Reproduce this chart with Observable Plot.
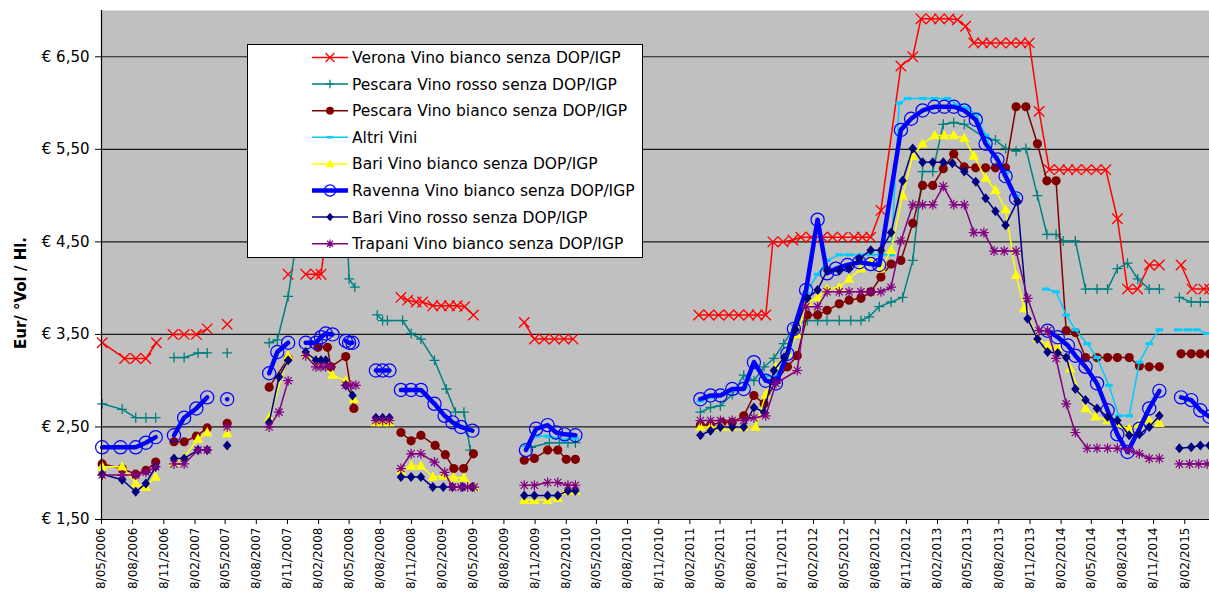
<!DOCTYPE html>
<html><head><meta charset="utf-8">
<script src="https://cdn.jsdelivr.net/npm/d3@7"></script>
<script src="https://cdn.jsdelivr.net/npm/@observablehq/plot@0.6"></script>
<style>
body{margin:0;background:#fff;}
#wrap{position:relative;width:1209px;height:592px;overflow:hidden;font-family:"DejaVu Sans",sans-serif;}
#ylabel{position:absolute;left:21px;top:293px;transform:translate(-50%,-50%) rotate(-90deg);font-weight:bold;font-size:15px;white-space:nowrap;}
#legend{position:absolute;left:247px;top:44px;width:396px;height:214px;background:#fff;border:1px solid #000;box-sizing:border-box;}
#legend svg{position:absolute;left:-1px;top:-1px;}
</style></head>
<body><div id="wrap"><div id="chart"></div><div id="ylabel">Eur/ °Vol / Hl.</div><div id="legend"></div></div>
<script>
const seriesNames = ["Verona Vino bianco senza DOP/IGP","Pescara Vino rosso senza DOP/IGP","Pescara Vino bianco senza DOP/IGP","Altri Vini","Bari Vino bianco senza DOP/IGP","Ravenna Vino bianco senza DOP/IGP","Bari Vino rosso senza DOP/IGP","Trapani Vino bianco senza DOP/IGP"];
const xTickLabels = ["8/05/2006","8/08/2006","8/11/2006","8/02/2007","8/05/2007","8/08/2007","8/11/2007","8/02/2008","8/05/2008","8/08/2008","8/11/2008","8/02/2009","8/05/2009","8/08/2009","8/11/2009","8/02/2010","8/05/2010","8/08/2010","8/11/2010","8/02/2011","8/05/2011","8/08/2011","8/11/2011","8/02/2012","8/05/2012","8/08/2012","8/11/2012","8/02/2013","8/05/2013","8/08/2013","8/11/2013","8/02/2014","8/05/2014","8/08/2014","8/11/2014","8/02/2015"];
const yTicks = [1.5,2.5,3.5,4.5,5.5,6.5];
const yTickLabels = ["€ 1,50","€ 2,50","€ 3,50","€ 4,50","€ 5,50","€ 6,50"];
const xStart = "2006-05-08", xEnd = "2015-04-22";
const yRange = [1.5, 7.0];

// null = break in the line
const verona = [
["2006-05-10",3.41],["2006-07-15",3.24],["2006-08-17",3.24],["2006-09-16",3.24],["2006-10-17",3.41],null,
["2006-12-05",3.50],["2007-01-07",3.50],["2007-02-12",3.50],["2007-03-16",3.56],null,
["2007-05-14",3.61],null,
["2007-11-10",4.15],null,
["2008-01-01",4.15],["2008-01-31",4.15],["2008-02-15",4.15],["2008-03-15",4.95],["2008-04-14",5.00],["2008-05-13",4.90],null,
["2008-10-08",3.90],["2008-10-28",3.87],["2008-11-22",3.85],["2008-12-11",3.85],["2009-01-10",3.81],["2009-02-04",3.81],["2009-02-28",3.81],["2009-03-23",3.81],["2009-04-14",3.80],["2009-05-10",3.71],null,
["2009-10-07",3.63],["2009-11-06",3.45],["2009-12-05",3.45],["2010-01-04",3.45],["2010-02-01",3.45],["2010-02-28",3.45],null,
["2011-03-06",3.71],["2011-04-05",3.71],["2011-05-04",3.71],["2011-06-03",3.71],["2011-07-02",3.71],["2011-08-01",3.71],["2011-08-26",3.71],["2011-09-20",3.71],
["2011-10-11",4.50],["2011-11-10",4.50],["2011-12-09",4.52],["2012-01-02",4.55],["2012-02-01",4.55],["2012-03-05",4.55],["2012-04-04",4.55],["2012-05-03",4.55],["2012-06-07",4.55],["2012-07-01",4.55],["2012-07-26",4.55],["2012-08-25",4.84],
["2012-10-23",6.40],["2012-11-27",6.50],["2012-12-21",6.91],["2013-01-20",6.91],["2013-02-14",6.91],["2013-03-14",6.91],["2013-04-08",6.90],["2013-05-02",6.83],["2013-05-26",6.65],["2013-06-21",6.65],["2013-07-15",6.65],["2013-08-14",6.65],["2013-09-13",6.65],["2013-10-12",6.65],["2013-11-06",6.65],["2013-12-05",5.91],
["2014-01-04",5.28],["2014-02-03",5.28],["2014-02-28",5.28],["2014-03-25",5.28],["2014-04-24",5.28],["2014-05-23",5.28],["2014-06-20",5.28],["2014-07-24",4.75],["2014-08-23",3.99],["2014-09-22",3.99],["2014-10-26",4.25],["2014-11-25",4.25],null,
["2015-01-28",4.25],["2015-03-01",3.99],["2015-04-05",3.99],["2015-04-22",3.99]
];
const pescaraRosso = [
["2006-05-10",2.75],["2006-07-08",2.69],["2006-08-17",2.60],["2006-09-16",2.60],["2006-10-15",2.60],null,
["2006-12-08",3.25],["2007-01-07",3.25],["2007-02-17",3.30],["2007-03-16",3.30],null,
["2007-05-14",3.30],null,
["2007-09-15",3.41],["2007-10-09",3.44],["2007-11-10",3.91],["2007-12-08",4.60],["2008-01-07",4.75],["2008-02-07",4.80],["2008-03-06",4.75],["2008-04-05",4.70],["2008-05-01",4.70],["2008-05-08",4.10],["2008-05-25",4.01],null,
["2008-07-30",3.71],["2008-08-15",3.65],["2008-08-29",3.65],["2008-10-13",3.65],["2008-11-07",3.51],["2008-12-06",3.45],["2009-01-15",3.22],["2009-02-19",2.91],["2009-03-18",2.66],["2009-04-12",2.66],["2009-05-01",2.25],null,
["2009-10-27",2.28],["2009-12-20",2.33],["2010-01-19",2.33],["2010-02-13",2.33],["2010-03-07",2.33],null,
["2011-03-11",2.66],["2011-04-10",2.71],["2011-05-09",2.73],["2011-06-13",2.85],["2011-07-17",3.06],["2011-08-16",3.00],["2011-09-15",3.15],["2011-10-14",3.24],["2011-11-12",3.40],["2011-12-17",3.60],["2012-01-21",3.65],["2012-02-20",3.65],["2012-03-19",3.65],["2012-04-24",3.65],["2012-05-28",3.65],["2012-06-27",3.65],["2012-07-21",3.69],["2012-08-20",3.80],["2012-09-24",3.85],["2012-10-28",3.90],["2012-11-27",4.30],["2012-12-26",5.26],["2013-01-25",5.26],["2013-02-25",5.77],["2013-03-28",5.79],["2013-04-28",5.77],["2013-06-30",5.62],["2013-07-29",5.60],["2013-08-28",5.51],["2013-09-28",5.48],["2013-10-27",5.51],["2013-11-30",5.00],["2013-12-28",4.58],["2014-01-24",4.58],["2014-02-14",4.51],["2014-03-22",4.51],["2014-04-21",3.99],["2014-05-25",3.99],["2014-06-25",3.99],["2014-07-24",4.21],["2014-08-23",4.27],["2014-09-22",4.10],["2014-10-26",3.99],["2014-11-25",3.99],null,
["2015-01-23",3.90],["2015-02-27",3.85],["2015-03-26",3.85],["2015-04-22",3.85]
];
const pescaraBianco = [
["2006-05-10",2.10],["2006-07-08",2.05],["2006-08-17",1.99],["2006-09-16",2.03],["2006-10-15",2.12],null,
["2006-12-08",2.34],["2007-01-07",2.34],["2007-02-12",2.40],["2007-03-16",2.49],null,
["2007-05-14",2.54],null,
["2007-09-15",2.93],["2007-11-10",3.24],null,
["2008-02-06",3.36],["2008-03-05",3.36],["2008-03-15",3.15],["2008-04-28",3.26],["2008-05-22",2.70],null,
["2008-07-30",2.57],["2008-08-29",2.57],null,
["2008-10-08",2.44],["2008-11-07",2.35],["2008-12-06",2.41],["2009-01-17",2.30],["2009-02-16",2.20],["2009-03-13",2.05],["2009-04-11",2.05],["2009-05-10",2.21],null,
["2009-10-07",2.14],["2009-11-06",2.16],["2009-12-15",2.25],["2010-01-14",2.25],["2010-02-08",2.15],["2010-03-07",2.15],null,
["2011-03-11",2.52],["2011-04-10",2.52],["2011-05-14",2.55],["2011-06-13",2.55],["2011-07-17",2.62],["2011-08-16",2.84],["2011-09-15",2.75],["2011-10-20",3.00],["2011-11-23",3.15],["2011-12-22",3.27],["2012-01-21",3.71],["2012-02-20",3.71],["2012-03-19",3.76],["2012-04-24",3.83],["2012-05-23",3.87],["2012-06-27",3.89],["2012-07-26",3.96],["2012-08-25",4.12],["2012-09-24",4.26],["2012-10-23",4.30],["2012-11-27",4.70],["2012-12-26",5.11],["2013-01-25",5.11],["2013-02-25",5.29],["2013-03-28",5.45],["2013-04-28",5.31],["2013-06-01",5.30],["2013-06-30",5.30],["2013-07-29",5.30],["2013-08-28",5.30],["2013-09-28",5.96],["2013-10-27",5.96],["2013-11-30",5.56],["2013-12-28",5.16],["2014-01-24",5.16],["2014-02-23",3.54],["2014-03-22",3.52],["2014-04-21",3.25],["2014-05-25",3.25],["2014-06-25",3.25],["2014-07-24",3.25],["2014-08-28",3.25],["2014-09-27",3.16],["2014-10-26",3.15],["2014-11-25",3.15],null,
["2015-01-28",3.29],["2015-02-27",3.29],["2015-03-26",3.29],["2015-04-22",3.29]
];
const altriVini = [
["2009-10-12",2.30],["2009-11-11",2.40],["2009-12-15",2.40],["2010-01-09",2.38],["2010-02-03",2.36],["2010-03-07",2.38],null,
["2011-03-11",2.78],["2011-04-10",2.82],["2011-05-09",2.84],["2011-06-13",2.90],["2011-07-17",2.92],["2011-08-16",3.15],["2011-09-20",3.05],["2011-10-20",3.05],["2011-11-23",3.30],["2011-12-17",3.55],["2012-01-17",3.95],["2012-02-20",4.15],["2012-03-19",4.30],["2012-04-24",4.36],["2012-05-23",4.36],["2012-06-27",4.36],["2012-07-26",4.36],["2012-08-25",4.36],["2012-09-24",4.36],["2012-10-18",6.00],["2012-11-12",6.05],["2012-12-26",6.05],["2013-01-30",6.05],["2013-03-09",6.05],["2013-04-08",5.98],["2013-05-02",5.95],["2013-06-01",5.88],["2013-06-30",5.65],["2013-07-29",5.42],["2013-08-28",5.25],["2013-09-28",5.00],null,
["2013-12-25",3.99],["2014-01-24",3.96],["2014-02-23",3.71],["2014-03-22",3.55],["2014-04-26",3.40],["2014-05-25",3.25],["2014-06-29",2.95],["2014-07-28",2.62],["2014-08-28",2.62],["2014-09-27",3.20],["2014-10-26",3.40],["2014-11-25",3.55],null,
["2015-01-18",3.55],["2015-02-17",3.55],["2015-03-16",3.55],["2015-04-15",3.51]
];
const bariBianco = [
["2006-05-10",2.07],["2006-07-08",2.07],["2006-08-17",1.89],["2006-09-16",1.85],["2006-10-15",1.96],null,
["2006-12-08",2.12],["2007-01-07",2.17],["2007-02-17",2.37],["2007-03-16",2.44],null,
["2007-05-14",2.43],null,
["2007-09-15",2.60],["2007-11-10",3.27],null,
["2008-01-01",3.28],["2008-02-06",3.20],["2008-03-20",3.06],["2008-04-28",3.00],["2008-05-22",2.80],null,
["2008-07-26",2.55],["2008-08-15",2.55],["2008-09-04",2.55],null,
["2008-10-08",2.03],["2008-11-07",2.08],["2008-12-06",2.08],["2009-01-10",1.96],["2009-02-10",1.97],["2009-03-13",1.95],["2009-04-12",1.95],["2009-05-12",1.85],null,
["2009-10-07",1.71],["2009-11-06",1.71],["2009-12-15",1.71],["2010-01-14",1.73],["2010-02-08",1.81],["2010-03-07",1.81],null,
["2011-03-11",2.50],["2011-04-10",2.50],["2011-05-14",2.50],["2011-06-13",2.50],["2011-07-17",2.50],["2011-08-21",2.50],["2011-09-20",2.85],["2011-10-20",3.15],["2011-11-23",3.30],["2011-12-22",3.50],["2012-01-21",3.85],["2012-02-20",3.90],["2012-03-19",3.99],["2012-04-24",4.01],["2012-05-23",4.10],["2012-06-27",4.21],["2012-07-26",4.30],["2012-08-25",4.21],["2012-09-24",4.41],["2012-10-28",5.00],["2012-11-27",5.43],["2012-12-26",5.56],["2013-01-30",5.65],["2013-02-28",5.65],["2013-03-28",5.65],["2013-04-28",5.62],["2013-05-26",5.43],["2013-06-30",5.19],["2013-07-29",5.06],["2013-08-28",4.85],["2013-09-28",4.14],["2013-10-22",3.78],["2013-11-30",3.46],["2013-12-30",3.38],["2014-01-29",3.36],["2014-03-07",3.13],["2014-04-21",2.70],["2014-05-20",2.61],["2014-06-25",2.57],["2014-07-28",2.52],["2014-08-28",2.48],["2014-09-27",2.53],["2014-10-26",2.57],["2014-11-25",2.54]
];
const ravenna = [
["2006-05-10",2.28],["2006-07-03",2.28],["2006-08-17",2.28],["2006-09-16",2.33],["2006-10-15",2.39],null,
["2006-12-08",2.41],["2007-01-07",2.60],["2007-02-12",2.70],["2007-03-16",2.82],null,
["2007-05-14",2.80],null,
["2007-09-15",3.08],["2007-10-09",3.31],["2007-11-10",3.41],null,
["2008-01-01",3.41],["2008-01-31",3.41],["2008-02-15",3.47],["2008-02-29",3.51],["2008-03-20",3.50],null,
["2008-04-28",3.43],["2008-05-08",3.41],["2008-05-18",3.41],null,
["2008-07-26",3.11],["2008-08-15",3.11],["2008-09-04",3.11],null,
["2008-10-08",2.90],["2008-11-07",2.90],["2008-12-06",2.90],["2009-01-15",2.75],["2009-02-14",2.62],["2009-03-09",2.55],["2009-04-03",2.50],["2009-05-07",2.46],null,
["2009-10-12",2.25],["2009-11-11",2.48],["2009-12-15",2.52],["2010-01-09",2.44],["2010-02-03",2.42],["2010-03-07",2.41],null,
["2011-03-11",2.80],["2011-04-10",2.84],["2011-05-09",2.84],["2011-06-13",2.91],["2011-07-17",2.91],["2011-08-16",3.20],["2011-09-20",3.00],["2011-10-20",2.97],["2011-11-23",3.29],["2011-12-12",3.56],["2012-01-17",3.98],["2012-02-20",4.74],["2012-03-19",4.16],["2012-04-14",4.21],["2012-05-18",4.25],["2012-06-22",4.28],["2012-07-26",4.26],["2012-08-20",4.25],["2012-10-23",5.71],["2012-11-22",5.83],["2012-12-26",5.92],["2013-01-30",5.96],["2013-02-28",5.96],["2013-03-28",5.96],["2013-04-28",5.92],["2013-06-01",5.82],["2013-06-30",5.56],["2013-08-04",5.39],["2013-08-28",5.21],["2013-09-28",4.97],null,
["2013-12-30",3.54],["2014-01-29",3.47],["2014-02-28",3.38],["2014-03-22",3.27],["2014-04-21",3.15],["2014-05-25",2.97],["2014-06-25",2.68],["2014-07-24",2.42],["2014-08-23",2.23],["2014-09-27",2.48],["2014-10-26",2.70],["2014-11-25",2.89],null,
["2015-01-28",2.82],["2015-02-27",2.79],["2015-03-26",2.68],["2015-04-22",2.61]
];
const bariRosso = [
["2006-05-10",1.99],["2006-07-08",1.93],["2006-08-17",1.80],["2006-09-16",1.89],["2006-10-15",2.07],null,
["2006-12-08",2.16],["2007-01-07",2.16],["2007-02-17",2.25],["2007-03-16",2.25],null,
["2007-05-14",2.30],null,
["2007-09-15",2.55],["2007-10-14",3.04],["2007-11-10",3.22],null,
["2008-01-01",3.31],["2008-01-31",3.22],["2008-02-15",3.22],["2008-02-29",3.22],null,
["2008-04-28",2.95],["2008-05-18",2.84],null,
["2008-07-26",2.60],["2008-08-15",2.60],["2008-09-04",2.60],null,
["2008-10-08",1.96],["2008-11-07",1.96],["2008-12-06",1.96],["2009-01-10",1.85],["2009-02-10",1.85],["2009-03-09",1.85],["2009-04-08",1.85],["2009-05-07",1.85],null,
["2009-10-07",1.76],["2009-11-06",1.76],["2009-12-15",1.76],["2010-01-14",1.76],["2010-02-13",1.81],["2010-03-07",1.81],null,
["2011-03-11",2.41],["2011-04-10",2.46],["2011-05-09",2.50],["2011-06-13",2.50],["2011-07-17",2.50],["2011-08-16",2.71],["2011-09-15",2.66],["2011-10-14",3.11],["2011-11-13",3.25],["2011-12-17",3.55],["2012-01-21",3.89],["2012-02-20",3.98],["2012-03-19",4.19],["2012-04-24",4.19],["2012-05-23",4.21],["2012-06-22",4.32],["2012-07-26",4.41],["2012-08-25",4.41],["2012-09-24",4.60],["2012-10-28",5.16],["2012-11-27",5.51],["2012-12-26",5.36],["2013-01-25",5.36],["2013-02-25",5.36],["2013-03-24",5.35],["2013-04-28",5.26],["2013-06-01",5.15],["2013-06-30",4.97],["2013-07-29",4.83],["2013-08-28",4.68],["2013-10-02",4.94],["2013-11-01",3.67],["2013-11-30",3.45],["2013-12-30",3.31],["2014-01-29",3.30],["2014-02-23",3.25],["2014-03-22",2.91],["2014-04-21",2.79],["2014-05-25",2.70],["2014-06-25",2.61],["2014-07-24",2.57],["2014-08-28",2.41],["2014-09-27",2.42],["2014-10-26",2.50],["2014-11-25",2.62],null,
["2015-01-23",2.27],["2015-02-27",2.28],["2015-03-26",2.30],["2015-04-22",2.30]
];
const trapani = [
["2006-05-10",1.98],["2006-07-08",1.98],["2006-08-17",1.98],["2006-09-16",2.01],["2006-10-15",2.07],null,
["2006-12-08",2.10],["2007-01-07",2.10],["2007-02-17",2.25],["2007-03-16",2.25],null,
["2007-05-14",2.50],null,
["2007-09-15",2.50],["2007-10-14",2.66],["2007-11-10",3.00],null,
["2008-01-01",3.27],["2008-01-31",3.15],["2008-02-15",3.15],["2008-02-29",3.15],["2008-03-15",3.15],null,
["2008-04-28",2.95],["2008-05-13",2.95],["2008-05-28",2.95],null,
["2008-07-26",2.57],["2008-08-15",2.57],["2008-09-04",2.57],null,
["2008-10-08",2.05],["2008-11-07",2.21],["2008-12-06",2.21],["2009-01-15",2.12],["2009-02-14",2.01],["2009-03-09",1.85],["2009-04-03",1.85],["2009-04-23",1.85],["2009-05-12",1.85],null,
["2009-10-07",1.87],["2009-11-06",1.87],["2009-12-15",1.90],["2010-01-14",1.90],["2010-02-13",1.87],["2010-03-07",1.87],null,
["2011-03-11",2.57],["2011-04-10",2.57],["2011-05-09",2.57],["2011-06-13",2.57],["2011-07-17",2.57],["2011-08-16",2.60],["2011-09-20",2.62],["2011-10-20",2.97],["2011-12-22",3.11],["2012-01-17",3.80],["2012-02-20",3.80],["2012-03-19",3.96],["2012-04-24",3.96],["2012-05-23",3.96],["2012-06-27",3.96],["2012-07-26",3.96],["2012-08-25",3.96],["2012-09-24",4.01],["2012-10-23",4.51],["2012-11-27",4.90],["2012-12-26",4.90],["2013-01-25",4.90],["2013-02-25",5.10],["2013-03-28",4.90],["2013-04-28",4.90],["2013-05-26",4.60],["2013-06-25",4.60],["2013-07-25",4.40],["2013-08-24",4.40],["2013-09-28",4.40],["2013-11-01",3.89],["2013-12-05",3.54],["2013-12-30",3.54],["2014-01-24",3.24],["2014-02-23",2.75],["2014-03-22",2.44],["2014-04-26",2.27],["2014-05-25",2.27],["2014-06-25",2.27],["2014-07-24",2.27],["2014-08-28",2.25],["2014-09-27",2.21],["2014-10-26",2.16],["2014-11-25",2.16],null,
["2015-01-23",2.10],["2015-02-22",2.10],["2015-03-21",2.10],["2015-04-15",2.10]
];

const allSeries = [verona, pescaraRosso, pescaraBianco, altriVini, bariBianco, ravenna, bariRosso, trapani];

// styles (kept apart from the data)
const styles = [
  {color:"#FF0000", width:1.5, shape:"times", r:5.2, filled:false, sw:1.3},
  {color:"#008080", width:1.5, shape:"plus", r:5, filled:false, sw:1.3},
  {color:"#800000", width:1.5, shape:"circle", r:4.6, filled:true},
  {color:"#00CCFF", width:1.5, shape:"dash", r:3.8, filled:true},
  {color:"#FFFF00", width:1.5, shape:"triangle", r:5.5, filled:true},
  {color:"#0000FF", width:4.5, shape:"circle", r:6.6, filled:false, sw:1.2},
  {color:"#000080", width:1.5, shape:"diamond", r:5, filled:true},
  {color:"#800080", width:1.5, shape:"asterisk", r:5, filled:false, sw:1.2}
];
const shapes = {
  times:(c,r)=>{c.moveTo(-r,-r);c.lineTo(r,r);c.moveTo(-r,r);c.lineTo(r,-r);},
  plus:(c,r)=>{c.moveTo(-r,0);c.lineTo(r,0);c.moveTo(0,-r);c.lineTo(0,r);},
  asterisk:(c,r)=>{c.moveTo(-r,0);c.lineTo(r,0);c.moveTo(0,-r);c.lineTo(0,r);const k=r*0.72;c.moveTo(-k,-k);c.lineTo(k,k);c.moveTo(-k,k);c.lineTo(k,-k);},
  circle:(c,r)=>{c.moveTo(r,0);c.arc(0,0,r,0,2*Math.PI);c.closePath();},
  dash:(c,r)=>{c.rect(-r,-r*0.4,2*r,r*0.8);},
  triangle:(c,r)=>{c.moveTo(0,-r);c.lineTo(r*0.95,r*0.7);c.lineTo(-r*0.95,r*0.7);c.closePath();},
  diamond:(c,r)=>{c.moveTo(0,-r);c.lineTo(r*0.85,0);c.lineTo(0,r);c.lineTo(-r*0.85,0);c.closePath();}
};
const sym = (f)=>({draw(c,size){ f(c, Math.sqrt(size/Math.PI)); }});

const parseISO = d3.utcParse("%Y-%m-%d");
const parseTick = d3.utcParse("%d/%m/%Y");
const xTicks = xTickLabels.map(parseTick);
const tickLabelMap = new Map(xTicks.map((d,i)=>[+d, xTickLabels[i]]));
const yLabelMap = new Map(yTicks.map((v,i)=>[v, yTickLabels[i]]));
const xDomain = [parseISO(xStart), parseISO(xEnd)];

function toRows(arr){
  let seg = 0; const rows = [];
  for (const p of arr){ if (p === null){ seg++; continue; } rows.push({date: parseISO(p[0]), value: p[1], seg}); }
  return rows;
}

const marks = [
  Plot.frame({fill:"#C0C0C0", stroke:"none"}),
  Plot.ruleY(yTicks.filter(v=>v>yRange[0]), {stroke:"#1a1a1a", strokeWidth:1.2})
];
allSeries.forEach((s,i)=>{
  const rows = toRows(s), st = styles[i];
  marks.push(Plot.line(rows, {x:"date", y:"value", z:"seg", stroke:st.color, strokeWidth:st.width, strokeLinejoin:"round", strokeLinecap:"round"}));
  marks.push(Plot.dot(rows, {x:"date", y:"value", r:st.r, symbol:sym(shapes[st.shape]),
    fill: st.filled ? st.color : "none", stroke: st.filled ? "none" : st.color, strokeWidth: st.sw || 1}));
});
marks.push(
  Plot.ruleX([xDomain[0]], {stroke:"#000", strokeWidth:1.2}),
  Plot.ruleY([yRange[0]], {stroke:"#000", strokeWidth:1.2}),
  Plot.axisX({ticks:xTicks, tickFormat:d=>tickLabelMap.get(+d), tickRotate:-90, tickSize:5, tickPadding:3, fontSize:12, label:null}),
  Plot.axisY({ticks:yTicks, tickFormat:d=>yLabelMap.get(d), tickSize:6, tickPadding:6, fontSize:15, label:null})
);

const chart = Plot.plot({
  width:1209, height:592,
  marginLeft:101, marginRight:0, marginTop:10, marginBottom:73,
  x:{type:"utc", domain:xDomain},
  y:{domain:yRange},
  style:{fontFamily:"DejaVu Sans", background:"white", color:"#000"},
  marks
});
document.getElementById("chart").appendChild(chart);

// legend
const leg = d3.select("#legend").append("svg").attr("width",396).attr("height",214);
seriesNames.forEach((n,i)=>{
  const y = 13.5 + i*26.6, st = styles[i];
  leg.append("line").attr("x1",65).attr("x2",101).attr("y1",y).attr("y2",y)
    .attr("stroke",st.color).attr("stroke-width",st.width);
  const p = d3.path(); shapes[st.shape](p, st.r*0.85);
  leg.append("path").attr("d",p.toString()).attr("transform",`translate(83,${y})`)
    .attr("fill", st.filled ? st.color : "none").attr("stroke", st.filled ? "none" : st.color)
    .attr("stroke-width", st.sw || 1);
  leg.append("text").attr("x",105).attr("y",y).attr("dy","0.36em")
    .style("font-family","DejaVu Sans").style("font-size","15.5px").text(n);
});
</script></body></html>
